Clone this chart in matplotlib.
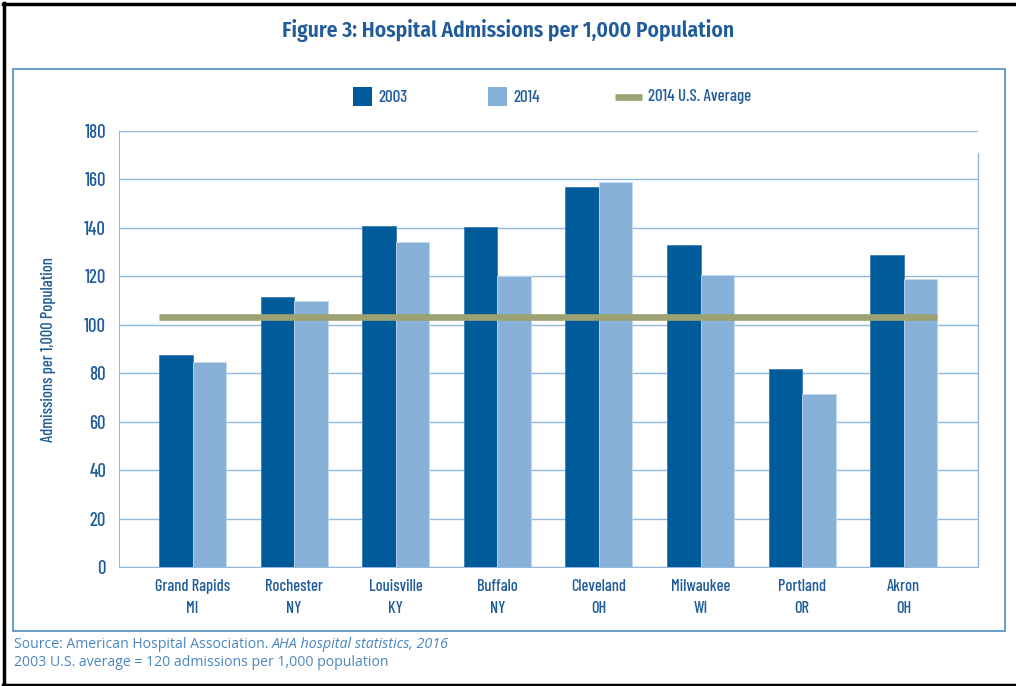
import os
import matplotlib
matplotlib.use("Agg")
import matplotlib.pyplot as plt
import numpy as np
from matplotlib.patches import Rectangle
from matplotlib.lines import Line2D
from matplotlib import font_manager as fm
from matplotlib.textpath import TextPath

cities = ["Grand Rapids", "Rochester", "Louisville", "Buffalo", "Cleveland", "Milwaukee", "Portland", "Akron"]
states = ["MI", "NY", "KY", "NY", "OH", "WI", "OR", "OH"]
vals_2003 = [87.6, 111.5, 140.7, 140.3, 156.8, 132.8, 81.8, 128.9]
vals_2014 = [84.5, 109.9, 134.4, 120.2, 158.9, 120.5, 71.6, 118.8]
us_avg_2014 = 103.3
series_names = ["2003", "2014", "2014 U.S. Average"]
yticks = [0, 20, 40, 60, 80, 100, 120, 140, 160, 180]
title = "Figure 3: Hospital Admissions per 1,000 Population"
ylabel = "Admissions per 1,000 Population"

DARK = "#005b9a"
LIGHT = "#88b1d9"
OLIVE = "#9ca272"
TXT = "#1f5c99"
GRID = "#93b8de"
SRCCOL = "#4a86bf"
SRC = ["Open Sans", "DejaVu Sans"]


def measure(prop, s):
    ext = TextPath((0, 0), s, size=100, prop=prop).get_extents()
    return ext.width, ext.height


def weight_of(f):
    if isinstance(f.weight, int):
        return f.weight
    return 700 if "bold" in str(f.weight).lower() else 400


def is_condensed(f):
    nm = f.name.lower()
    st = str(f.stretch).lower()
    if "narrow" in nm or "condensed" in nm or "condensed" in st:
        return True
    if isinstance(f.stretch, int) and f.stretch < 500:
        return True
    return False


cands_reg, cands_semi, cands_bold = [], [], []
seen = set()
for f in fm.fontManager.ttflist:
    if f.fname in seen or f.style != "normal" or not is_condensed(f):
        continue
    seen.add(f.fname)
    try:
        if os.path.getsize(f.fname) > 3_000_000:
            continue
    except OSError:
        continue
    wt = weight_of(f)
    if 550 <= wt <= 650:
        cands_semi.append(f.fname)
    if wt >= 600:
        cands_bold.append(f.fname)
    elif 350 <= wt <= 500:
        cands_reg.append(f.fname)


def pick(cands, sample, target_ratio):
    best, best_err = None, 1e9
    for fname in cands[:25]:
        try:
            p = fm.FontProperties(fname=fname)
            w, _ = measure(p, sample)
            _, capH = measure(p, "H")
            err = abs(np.log((w / capH) / target_ratio))
        except Exception:
            continue
        if err < best_err:
            best, best_err = fname, err
    return best


reg_file = pick(cands_reg, "Grand Rapids", 74 / 11.3)
bold_file = pick(cands_semi if cands_semi else cands_bold, title, 450 / 15.0)


def fp_fit(text, target_px, bold=False):
    fname = bold_file if bold else reg_file
    if fname:
        p = fm.FontProperties(fname=fname)
    else:
        p = fm.FontProperties(family="DejaVu Sans", weight="bold" if bold else "normal")
    w, _ = measure(p, text)
    p.set_size(target_px * 72.0 / w)
    return p


W, H = 1016, 686
fig = plt.figure(figsize=(W / 100, H / 100), dpi=100)


def fx(px):
    return px / W


def fy(py):
    return 1 - py / H


L, R, T, B = 118.5, 977.5, 131, 567.3
ax = fig.add_axes([fx(L), fy(B), fx(R) - fx(L), (B - T) / H])

n = len(cities)
x = np.arange(n)
w = 0.33
ax.bar(x - w / 2, vals_2003, width=w, color=DARK, edgecolor="#3d7db3", linewidth=0.6, zorder=3)
ax.bar(x + w / 2, vals_2014, width=w, color=LIGHT, edgecolor="#c3d8ee", linewidth=0.6, zorder=3)
ax.plot([x[0] - w, x[-1] + w], [us_avg_2014, us_avg_2014], color=OLIVE, linewidth=4.8,
        solid_capstyle="butt", zorder=4)

tickprop = fp_fit("Grand Rapids", 74)
ax.set_xlim(-0.729, n - 1 + 0.726)
ax.set_ylim(0, 180)
ax.set_yticks(yticks)
ax.set_yticklabels([str(v) for v in yticks], fontproperties=fp_fit("180", 20.5), color=TXT)
ax.yaxis.grid(True, color=GRID, linewidth=1.0, zorder=0)
ax.tick_params(axis="y", length=0, pad=9)
ax.set_xticks(x)
ax.set_xticklabels([f"{c}\n{s}" for c, s in zip(cities, states)], fontproperties=tickprop,
                   color=TXT, linespacing=1.58)
ax.tick_params(axis="x", length=0, pad=8.5)
for side in ["top", "right"]:
    ax.spines[side].set_visible(False)
ax.spines["left"].set_color(GRID)
ax.spines["bottom"].set_color(GRID)
ax.set_ylabel(ylabel, fontproperties=fp_fit(ylabel, 184), color=TXT)
ax.yaxis.set_label_coords((56.5 - L) / (R - L), 0.5)
ax.plot([1, 1], [0, 0.95], transform=ax.transAxes, color=GRID, linewidth=1.0, clip_on=False)

fig.patches.append(Rectangle((fx(13), fy(630.7)), fx(1004.7) - fx(13), (630.7 - 69) / H,
                             transform=fig.transFigure, fill=False, edgecolor="#5b95c7", linewidth=1.3))
fig.lines.append(Line2D([fx(4), fx(4)], [fy(3), fy(684.5)], transform=fig.transFigure, color="black", linewidth=2.5))
fig.lines.append(Line2D([fx(3), fx(1016)], [fy(4), fy(4)], transform=fig.transFigure, color="black", linewidth=2.5))
fig.lines.append(Line2D([fx(3), fx(1016)], [fy(684.5), fy(684.5)], transform=fig.transFigure, color="black", linewidth=2.5))

fig.text(fx(508.5), fy(30), title, ha="center", va="center",
         fontproperties=fp_fit(title, 450, bold=True), color=TXT)

ly = 97
fig.patches.append(Rectangle((fx(353), fy(106)), fx(372) - fx(353), 19.5 / H, transform=fig.transFigure,
                             facecolor=DARK, edgecolor="none"))
fig.patches.append(Rectangle((fx(487.5), fy(106)), fx(507) - fx(487.5), 19.5 / H, transform=fig.transFigure,
                             facecolor=LIGHT, edgecolor="none"))
fig.lines.append(Line2D([fx(615), fx(642)], [fy(ly), fy(ly)], transform=fig.transFigure, color=OLIVE,
                        linewidth=4.8, solid_capstyle="butt"))
legprop = fp_fit(series_names[2], 102)
for xp, lab in zip([378, 513, 648], series_names):
    fig.text(fx(xp), fy(ly), lab, ha="left", va="center", fontproperties=legprop, color=TXT)

t1 = fig.text(fx(14), fy(645), "Source: American Hospital Association. ", ha="left", va="center",
              family=SRC, fontsize=10.1, color=SRCCOL)
fig.canvas.draw()
bb = t1.get_window_extent()
fig.text(bb.x1 / W, fy(645), "AHA hospital statistics, 2016", ha="left", va="center",
         family=SRC, fontsize=10.3, color=SRCCOL, style="italic")
fig.text(fx(14), fy(663), "2003 U.S. average = 120 admissions per 1,000 population", ha="left", va="center",
         family=SRC, fontsize=10.1, color=SRCCOL)

fig.savefig("out.png", dpi=100)
